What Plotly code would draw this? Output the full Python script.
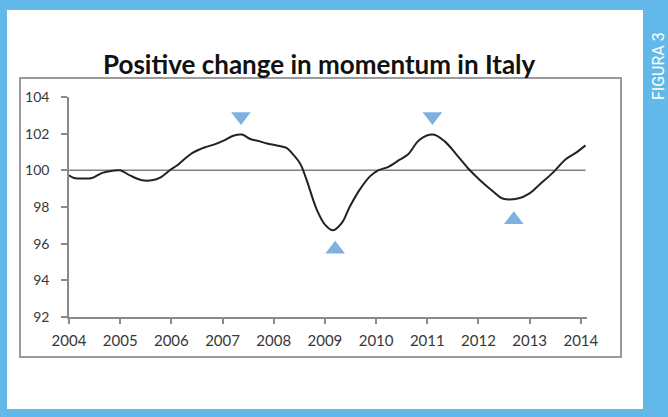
import plotly.graph_objects as go

# data (decimal years)
years = [2004.0, 2004.1, 2004.3, 2004.45, 2004.65, 2004.85, 2005.0, 2005.2, 2005.43, 2005.62,
         2005.79, 2006.0, 2006.11, 2006.24, 2006.43, 2006.66, 2006.83, 2007.02, 2007.21, 2007.38,
         2007.54, 2007.73, 2007.87, 2008.06, 2008.25, 2008.38, 2008.52, 2008.64, 2008.84, 2009.0,
         2009.16, 2009.33, 2009.49, 2009.68, 2009.88, 2010.04, 2010.23, 2010.46, 2010.62, 2010.85,
         2011.11, 2011.34, 2011.57, 2011.79, 2012.02, 2012.28, 2012.47, 2012.77, 2012.99, 2013.19,
         2013.45, 2013.71, 2013.9, 2014.09]
index = [99.73, 99.58, 99.55, 99.58, 99.86, 99.98, 100.0, 99.71, 99.46, 99.46,
         99.62, 100.07, 100.26, 100.58, 100.98, 101.26, 101.4, 101.62, 101.89, 101.95,
         101.71, 101.58, 101.46, 101.36, 101.22, 100.86, 100.35, 99.49, 97.86, 97.04,
         96.73, 97.13, 98.04, 98.95, 99.67, 100.0, 100.18, 100.58, 100.86, 101.67,
         101.95, 101.58, 100.86, 100.13, 99.49, 98.86, 98.46, 98.46, 98.73, 99.22,
         99.86, 100.62, 100.95, 101.36]

# turning points
peak_years = [2007.36, 2011.1]
peak_vals = [102.93, 102.93]
trough_years = [2009.2, 2012.69]
trough_vals = [95.7, 97.3]

year_ticks = list(range(2004, 2015))
y_ticks = [92, 94, 96, 98, 100, 102, 104]

W, H = 668, 417
L, R, T, B = 69, 81, 97, 100
pw, ph = W - L - R, H - T - B

def px(x):
    return (x - L) / pw

def py(y):
    return (H - B - y) / ph

fig = go.Figure()

fig.add_trace(go.Scatter(x=[2004, 2014.09], y=[100, 100], mode="lines",
                         line=dict(color="#808080", width=1.5), hoverinfo="skip"))
fig.add_trace(go.Scatter(x=years, y=index, mode="lines",
                         line=dict(color="#222222", width=2, shape="spline", smoothing=1.0)))
fig.add_trace(go.Scatter(x=peak_years, y=peak_vals, mode="markers",
                         marker=dict(symbol="triangle-down", size=17, color="#7eb0e2")))
fig.add_trace(go.Scatter(x=trough_years, y=trough_vals, mode="markers",
                         marker=dict(symbol="triangle-up", size=17, color="#7eb0e2")))

shapes = [
    # white page inside the blue frame
    dict(type="rect", xref="paper", yref="paper", x0=px(7), x1=px(643), y0=py(409), y1=py(10),
         fillcolor="white", line=dict(width=0), layer="below"),
    # grey chart box
    dict(type="rect", xref="paper", yref="paper", x0=px(20), x1=px(621), y0=py(357), y1=py(78),
         fillcolor="rgba(0,0,0,0)", line=dict(color="#9a9a9a", width=2), layer="below"),
]

fig.update_layout(
    width=W, height=H,
    margin=dict(l=L, r=R, t=T, b=B),
    paper_bgcolor="#62b9e9",
    plot_bgcolor="white",
    showlegend=False,
    shapes=shapes,
    font=dict(family="Lato", color="#383838"),
    annotations=[
        dict(text="<b>Positive change in momentum in Italy</b>", xref="paper", yref="paper",
             x=px(319), y=py(64), showarrow=False, xanchor="center", yanchor="middle",
             font=dict(family="Lato", size=26, color="#111111")),
        dict(text="FIGURA 3", xref="paper", yref="paper", x=px(658), y=py(66),
             showarrow=False, textangle=-90, xanchor="center", yanchor="middle",
             font=dict(family="Roboto", size=16, color="white")),
    ],
)

fig.update_xaxes(range=[2004, 2014.12], tickvals=year_ticks, ticktext=[str(y) for y in year_ticks],
                 showgrid=False, zeroline=False, showline=True, linecolor="#8a8a8a", linewidth=1.5,
                 ticks="outside", ticklen=5, tickcolor="#8a8a8a", tickwidth=1.5,
                 ticklabelstandoff=4, tickfont=dict(family="Lato", size=15, color="#383838"))
fig.update_yaxes(range=[92, 104], tickvals=y_ticks, showgrid=False, zeroline=False,
                 showline=True, linecolor="#8a8a8a", linewidth=1.5,
                 ticks="outside", ticklen=6, tickcolor="#8a8a8a", tickwidth=1.5,
                 ticklabelstandoff=9, tickfont=dict(family="Lato", size=14, color="#383838"))

fig.write_html("out.html", config={"displayModeBar": False},
               post_script="document.body.style.margin='0';")
